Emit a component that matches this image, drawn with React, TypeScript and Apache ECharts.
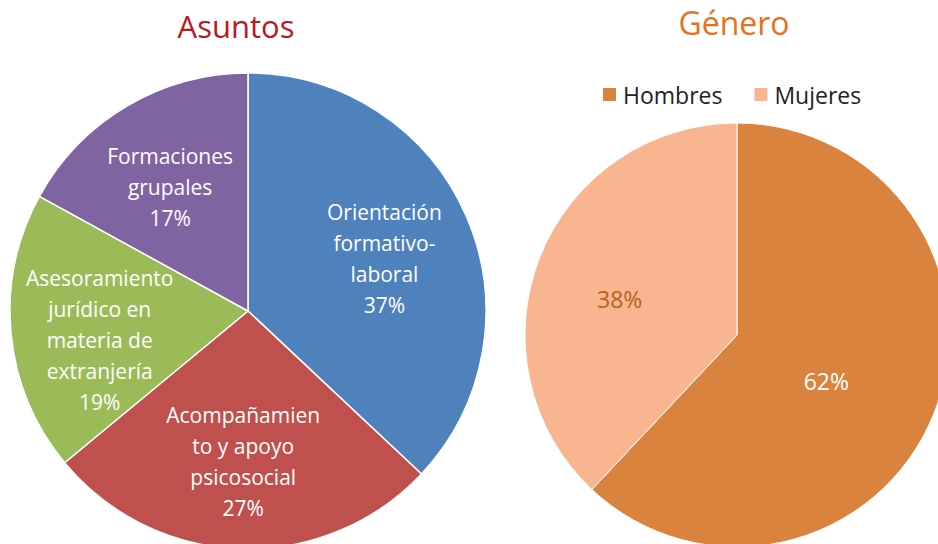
import React, { useEffect, useRef } from "react";
import * as echarts from "echarts";

const asuntosNames = [
  "Orientación\nformativo-\nlaboral",
  "Acompañamien\nto y apoyo\npsicosocial",
  "Asesoramiento\njurídico en\nmateria de\nextranjería",
  "Formaciones\ngrupales",
];
const asuntosValues = [37, 27, 19, 17];
const asuntosColors = ["#4F81BD", "#C0504D", "#9BBB59", "#8064A2"];

const generoNames = ["Hombres", "Mujeres"];
const generoValues = [62, 38];
const generoColors = ["#DA833E", "#F8B590"];
const generoLabelColors = ["#FFFFFF", "#B5611F"];

const FONT = "'Open Sans', 'Noto Sans', sans-serif";

export default function App() {
  const ref = useRef<HTMLDivElement>(null);
  useEffect(() => {
    const chart = echarts.init(ref.current!, null, { renderer: "svg" });
    const asuntosNudge = [
      [-4, 8],
      [0, -2],
      [4, 15],
      [0, 8],
    ];
    const generoNudge = [
      [-12, 6],
      [-16, 4],
    ];
    const asuntosData = asuntosNames.map((n, i) => ({
      name: n,
      value: asuntosValues[i],
      itemStyle: { color: asuntosColors[i] },
    }));
    const generoData = generoNames.map((n, i) => ({
      name: n,
      value: generoValues[i],
      itemStyle: { color: generoColors[i] },
      label: { color: generoLabelColors[i] },
    }));
    chart.setOption({
      animation: false,
      backgroundColor: "#FFFFFF",
      title: [
        {
          text: "Asuntos",
          left: 231,
          top: 5,
          textAlign: "center",
          textStyle: { color: "#C0171E", fontSize: 31, fontWeight: "normal", fontFamily: FONT },
        },
        {
          text: "Género",
          left: 729,
          top: 1,
          textAlign: "center",
          textStyle: { color: "#E8711A", fontSize: 32, fontWeight: "normal", fontFamily: FONT },
        },
      ],
      legend: {
        data: generoNames,
        left: 596,
        top: 78,
        icon: "rect",
        itemWidth: 15,
        itemHeight: 15,
        itemGap: 30,
        textStyle: { fontSize: 23, color: "#222222", fontFamily: FONT, padding: [0, 0, 0, 1] },
      },
      series: [
        {
          type: "pie",
          center: [248, 311],
          radius: 238,
          startAngle: 90,
          data: asuntosData,
          label: { show: false },
          labelLine: { show: false },
          itemStyle: { borderColor: "#FFFFFF", borderWidth: 1.5 },
          silent: true,
        },
        {
          type: "pie",
          center: [248, 311],
          radius: [62, 238],
          startAngle: 90,
          data: asuntosValues.map((v, i) => ({ name: asuntosNames[i], value: v })),
          itemStyle: { color: "transparent", borderWidth: 0 },
          label: {
            show: true,
            position: "inside",
            formatter: "{b}\n{d}%",
            color: "#FFFFFF",
            fontSize: 21,
            lineHeight: 31,
            fontFamily: FONT,
          },
          labelLayout: (p: any) => ({
            dx: asuntosNudge[p.dataIndex][0],
            dy: asuntosNudge[p.dataIndex][1],
          }),
          labelLine: { show: false },
          silent: true,
        },
        {
          type: "pie",
          name: "Género",
          center: [737, 335],
          radius: 212,
          startAngle: 90,
          data: generoData,
          label: {
            show: true,
            position: "inside",
            formatter: "{d}%",
            fontSize: 23,
            fontFamily: FONT,
          },
          labelLayout: (p: any) => ({
            dx: generoNudge[p.dataIndex][0],
            dy: generoNudge[p.dataIndex][1],
          }),
          labelLine: { show: false },
          itemStyle: { borderColor: "#FFFFFF", borderWidth: 1 },
          silent: true,
        },
      ],
    });
    return () => chart.dispose();
  }, []);
  return (
    <div
      ref={ref}
      style={{ position: "fixed", left: 0, top: 0, width: 938, height: 544 }}
    />
  );
}
